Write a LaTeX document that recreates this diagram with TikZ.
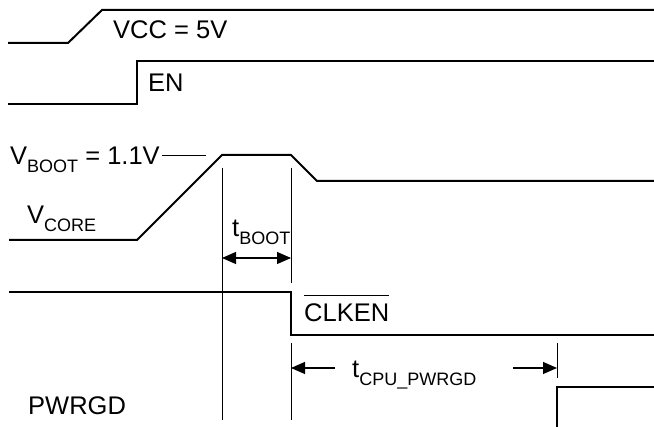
\documentclass[tikz,border=0pt]{standalone}
\usepackage{fontspec}
\setmainfont{Liberation Sans}
\usetikzlibrary{arrows.meta}
\newcommand{\subtxt}[1]{\raisebox{-7.5pt}{\fontsize{18}{18}\selectfont #1}}
\newcommand{\ovl}[1]{{\setbox0\hbox{#1}\rlap{\raisebox{26pt}{\rule{\wd0}{1.2pt}}}\box0}}
\begin{document}
\begin{tikzpicture}[x=1pt,y=-1pt,
  signal/.style={line width=2pt, line join=miter},
  marker/.style={line width=0.9pt},
  dim/.style={line width=1.2pt, -{Triangle[length=14pt,width=12pt]}},
  lbl/.style={anchor=base west, inner sep=0pt, font=\fontsize{25.5}{25.5}\selectfont}]
\useasboundingbox (0,0) rectangle (654,427);
% VCC
\draw[signal] (8,43) -- (68,43) -- (102,10) -- (654,10);
\node[lbl] (vcc) at (113,39) {VCC = 5V};
% EN
\draw[signal] (8,104) -- (137,104) -- (137,61) -- (654,61);
\node[lbl] (en) at (148,92) {EN};
% VCORE
\draw[signal] (9,240) -- (137,240) -- (222,155) -- (291,155) -- (317,181) -- (654,181);
\node[lbl] (vboot) at (10,165) {V\subtxt{BOOT} = 1.1V};
\coordinate (vbl) at (162,155);
\coordinate (vbr) at (206,155);
\draw[marker] (vbl) -- (vbr);
\node[lbl] (vcore) at (27,224) {V\subtxt{CORE}};
% markers
\coordinate (m1t) at (222,168);
\coordinate (m1b) at (222,420);
\coordinate (m2t) at (291,168);
\coordinate (m2b) at (291,283);
\coordinate (m3t) at (291,343);
\coordinate (m3b) at (291,420);
\coordinate (m4t) at (557,343);
\coordinate (m4b) at (557,378);
\draw[marker] (m1t) -- (m1b);
\draw[marker] (m2t) -- (m2b);
\draw[marker] (m3t) -- (m3b);
\draw[marker] (m4t) -- (m4b);
% tBOOT
\coordinate (tbl) at (222,258);
\coordinate (tbr) at (291,258);
\draw[dim, {Triangle[length=14pt,width=12pt]}-{Triangle[length=14pt,width=12pt]}] (tbl) -- (tbr);
\node[lbl] (tboot) at (232,237) {t\subtxt{BOOT}};
% CLKEN
\draw[signal] (9,292) -- (291,292) -- (291,335) -- (654,335);
\node[lbl] (clken) at (304,322) {\ovl{CLKEN}};
% tCPU_PWRGD
\coordinate (tcl0) at (335,368);
\coordinate (tcl1) at (291,368);
\coordinate (tcr0) at (513,368);
\coordinate (tcr1) at (557,368);
\draw[dim] (tcl0) -- (tcl1);
\draw[dim] (tcr0) -- (tcr1);
\node[lbl] (tcpu) at (352,378) {t\subtxt{CPU\_PWRGD}};
% PWRGD
\draw[signal] (557,428) -- (557,387) -- (654,387);
\node[lbl] (pwrgd) at (28,415) {PWRGD};
\end{tikzpicture}
\end{document}
